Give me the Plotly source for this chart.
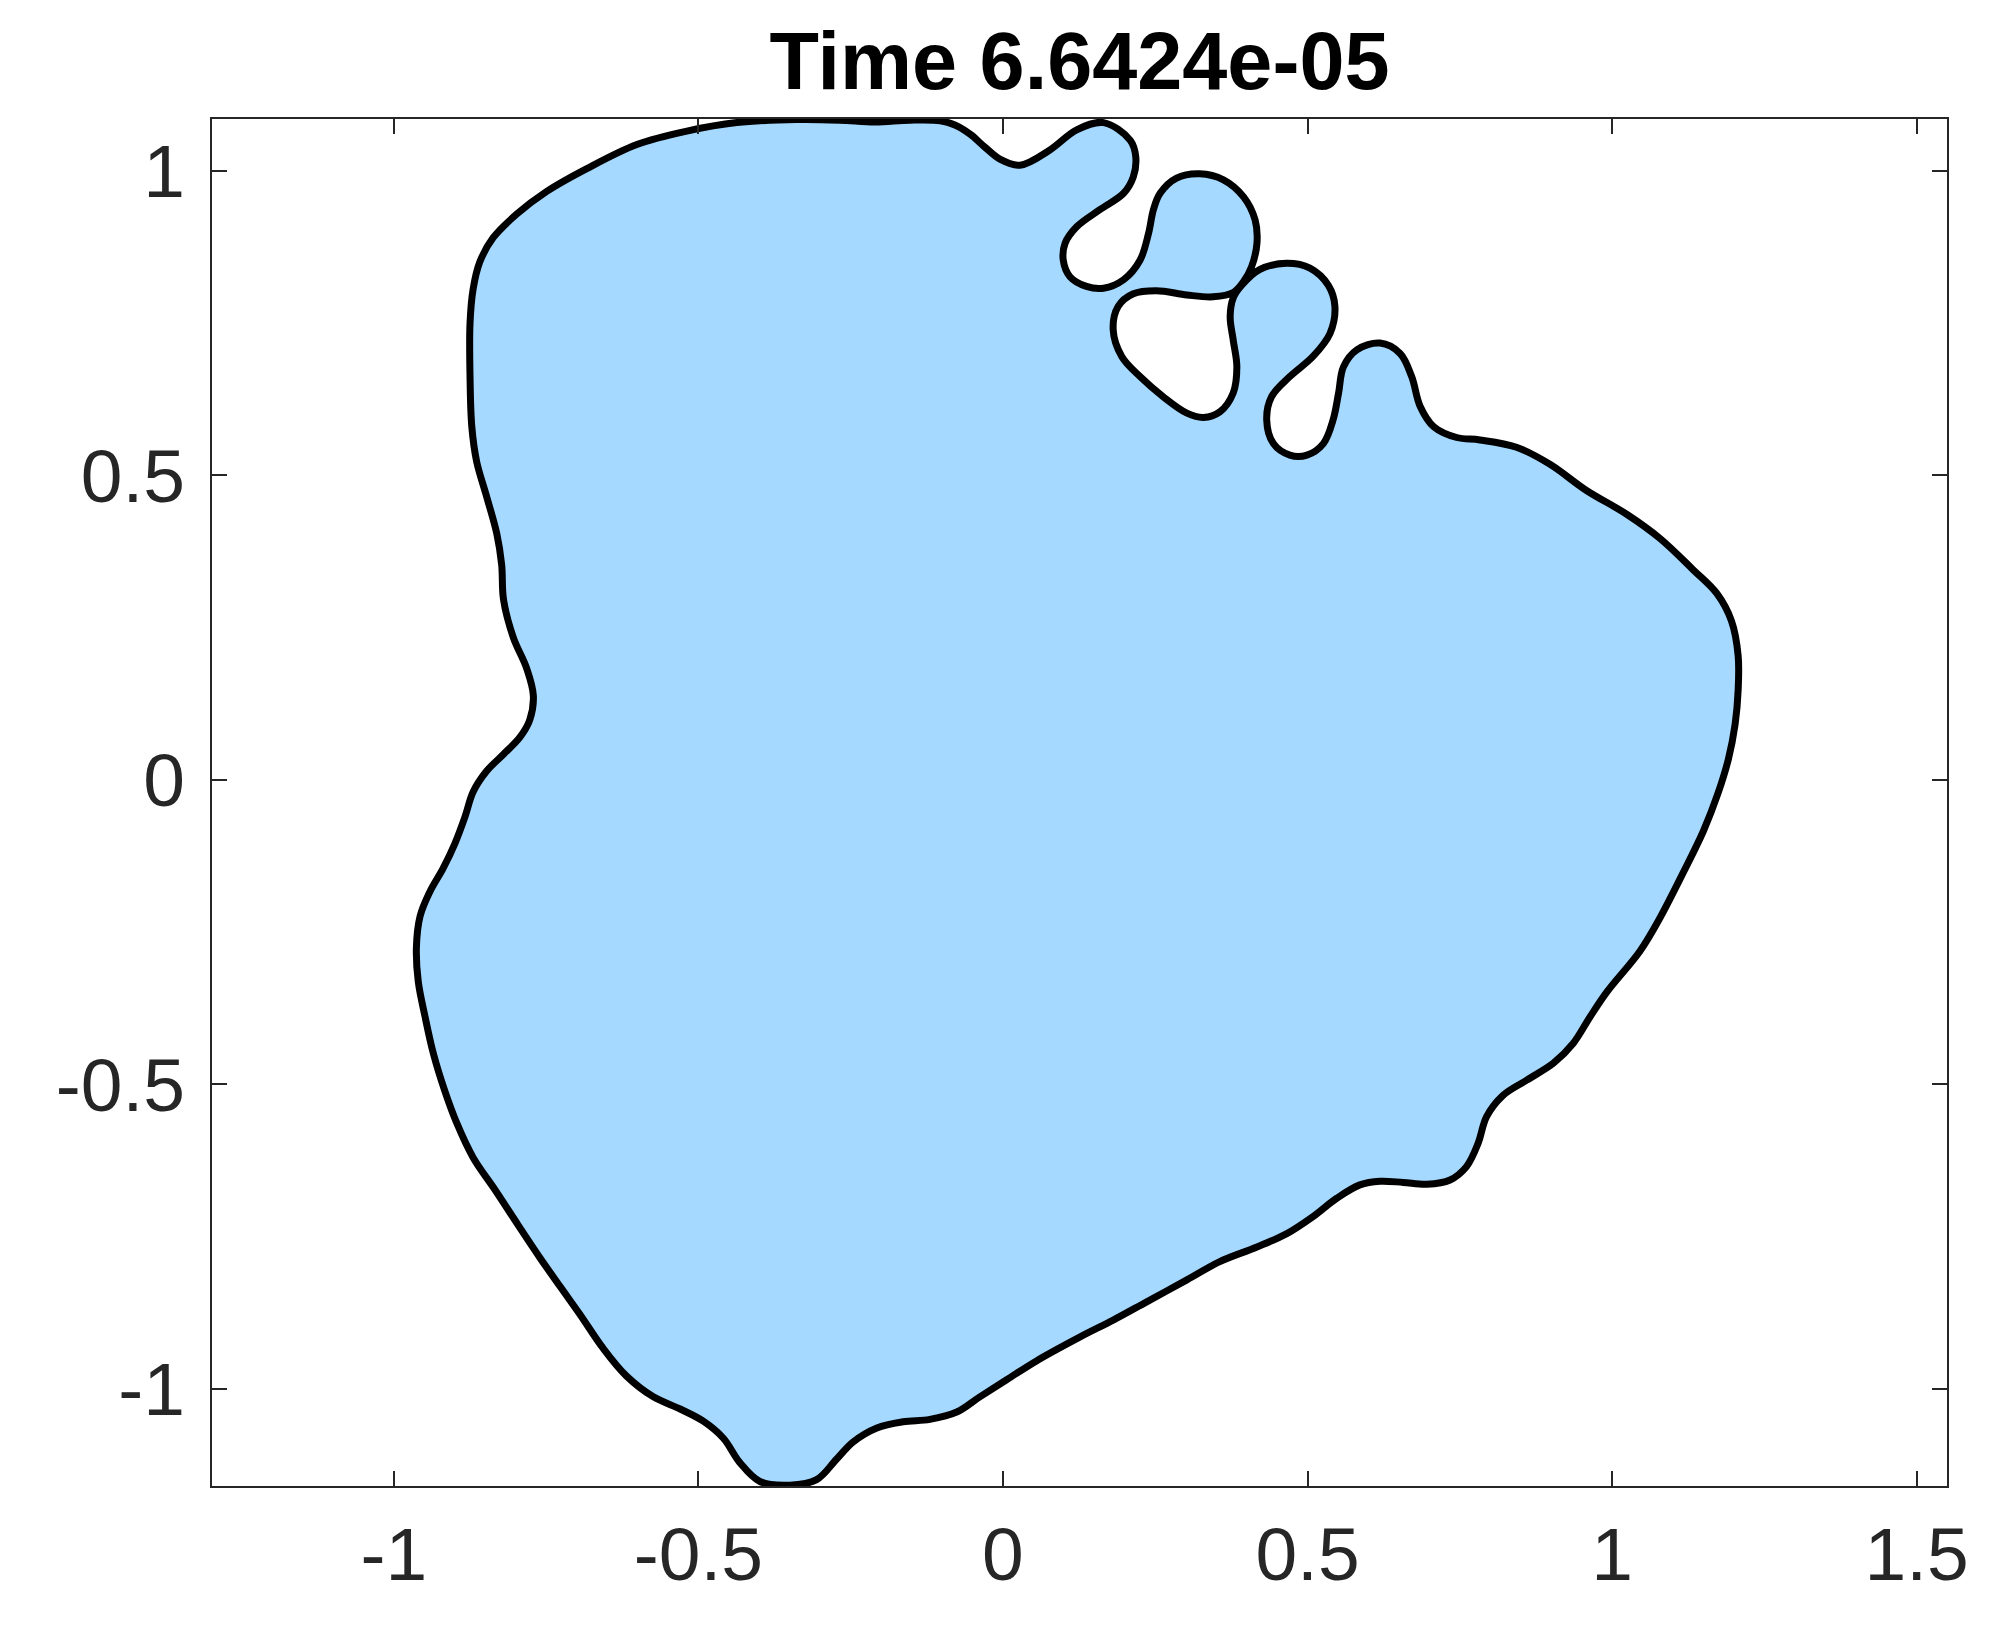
import plotly.graph_objects as go

title_text = "Time 6.6424e-05"

x_ticks = [-1, -0.5, 0, 0.5, 1, 1.5]
x_tick_labels = ["-1", "-0.5", "0", "0.5", "1", "1.5"]
y_ticks = [-1, -0.5, 0, 0.5, 1]
y_tick_labels = ["-1", "-0.5", "0", "0.5", "1"]

x_range = [-1.2986, 1.5499]
y_range = [-1.1594, 1.0849]

# boundary of the droplet, traced clockwise, split into segments
left_up_x = [-0.875, -0.875, -0.870, -0.859, -0.837, -0.798, -0.749, -0.684, -0.601, -0.519, -0.437]
left_up_y = [0.664, 0.749, 0.805, 0.850, 0.890, 0.929, 0.966, 1.003, 1.043, 1.065, 1.079]

top_x = [-0.339, -0.268, -0.210, -0.153, -0.103, -0.079, -0.054, -0.030, -0.005, 0.028, 0.077, 0.121,
         0.165, 0.209, 0.218, 0.214, 0.198, 0.159, 0.121, 0.102, 0.099, 0.110, 0.137, 0.165, 0.198,
         0.225, 0.239, 0.247, 0.258, 0.285, 0.323, 0.362, 0.395, 0.414, 0.417, 0.408, 0.395, 0.378,
         0.345, 0.302, 0.252, 0.214, 0.189, 0.181, 0.195, 0.225, 0.263, 0.302, 0.329, 0.356, 0.378,
         0.384, 0.378, 0.373, 0.378, 0.392, 0.422, 0.466, 0.504, 0.534, 0.545, 0.537, 0.509, 0.471,
         0.441, 0.433, 0.444, 0.471, 0.499, 0.526, 0.542, 0.551, 0.559, 0.581, 0.619, 0.652, 0.671,
         0.685, 0.707, 0.745, 0.783]
top_y = [1.084, 1.083, 1.080, 1.083, 1.082, 1.075, 1.060, 1.039, 1.019, 1.009, 1.034, 1.067,
         1.079, 1.050, 1.023, 0.990, 0.963, 0.936, 0.908, 0.881, 0.853, 0.826, 0.810, 0.807, 0.821,
         0.853, 0.897, 0.936, 0.963, 0.988, 0.995, 0.985, 0.957, 0.919, 0.881, 0.842, 0.818, 0.800,
         0.793, 0.796, 0.803, 0.798, 0.777, 0.738, 0.695, 0.662, 0.629, 0.602, 0.595, 0.604, 0.635,
         0.678, 0.722, 0.760, 0.791, 0.812, 0.838, 0.848, 0.840, 0.812, 0.777, 0.733, 0.695, 0.662,
         0.629, 0.591, 0.552, 0.533, 0.533, 0.552, 0.591, 0.635, 0.678, 0.706, 0.717, 0.700, 0.662,
         0.613, 0.580, 0.562, 0.558]

right_x = [0.843, 0.898, 0.958, 1.024, 1.079, 1.133, 1.172, 1.196, 1.207, 1.207, 1.202, 1.191,
           1.174, 1.150, 1.117, 1.079, 1.046, 0.991, 0.964, 0.936, 0.904, 0.860, 0.821, 0.794,
           0.780, 0.761, 0.734, 0.696, 0.657, 0.619, 0.586, 0.548, 0.509, 0.466, 0.417, 0.356,
           0.302, 0.236, 0.181, 0.126]
right_y = [0.546, 0.518, 0.475, 0.436, 0.396, 0.345, 0.306, 0.261, 0.204, 0.147, 0.091, 0.034,
           -0.022, -0.084, -0.152, -0.226, -0.281, -0.349, -0.389, -0.433, -0.465, -0.493, -0.518, -0.553,
           -0.597, -0.635, -0.657, -0.664, -0.661, -0.659, -0.665, -0.687, -0.717, -0.745, -0.767, -0.791,
           -0.821, -0.857, -0.887, -0.915]

bottom_x = [0.055, 0.006, -0.038, -0.076, -0.120, -0.164, -0.207, -0.246, -0.273, -0.306, -0.350,
            -0.399, -0.432, -0.459, -0.492, -0.530, -0.574, -0.618, -0.656, -0.695, -0.727, -0.760,
            -0.796, -0.834]
bottom_y = [-0.954, -0.985, -1.013, -1.038, -1.050, -1.054, -1.064, -1.087, -1.115, -1.149, -1.158,
            -1.152, -1.121, -1.081, -1.053, -1.033, -1.013, -0.979, -0.934, -0.877, -0.832, -0.785,
            -0.731, -0.673]

left_x = [-0.870, -0.897, -0.916, -0.935, -0.949, -0.960, -0.963, -0.957, -0.941, -0.919, -0.900,
          -0.883, -0.870, -0.848, -0.820, -0.793, -0.777, -0.771, -0.782, -0.804, -0.820, -0.823,
          -0.831, -0.848, -0.864, -0.872, -0.875]
left_y = [-0.620, -0.563, -0.512, -0.450, -0.388, -0.331, -0.275, -0.224, -0.184, -0.145, -0.105,
          -0.060, -0.020, 0.014, 0.042, 0.070, 0.098, 0.138, 0.183, 0.234, 0.296, 0.353,
          0.404, 0.466, 0.522, 0.579, 0.664]

xs = left_up_x + top_x + right_x + bottom_x + left_x
ys = left_up_y + top_y + right_y + bottom_y + left_y

fig = go.Figure()
fig.add_trace(go.Scatter(
    x=xs, y=ys, mode="lines", fill="toself",
    fillcolor="rgb(166,217,255)",
    line=dict(color="black", width=7, shape="spline", smoothing=1.0),
    hoverinfo="skip", showlegend=False,
))

font_family = "Liberation Sans, Arial, Helvetica, sans-serif"
axis_common = dict(
    showgrid=False, zeroline=False, showline=True, linecolor="#262626", linewidth=2,
    mirror="ticks", ticks="inside", ticklen=15, tickwidth=2, tickcolor="#262626",
    tickfont=dict(family=font_family, size=75, color="#262626"),
)

FIG_W, FIG_H = 1996, 1610
fig.update_layout(
    width=FIG_W, height=FIG_H,
    paper_bgcolor="white", plot_bgcolor="white",
    margin=dict(l=204, r=57, t=111, b=132, autoexpand=False),
    title=dict(text=title_text, x=0.5, xref="paper", xanchor="center",
               y=1 - 53 / FIG_H, yref="container", yanchor="middle",
               font=dict(family=font_family, size=81, color="black", weight="bold")),
    xaxis=dict(range=x_range, tickvals=x_ticks, ticktext=x_tick_labels,
               ticklabelstandoff=2, **axis_common),
    yaxis=dict(range=y_range, tickvals=y_ticks, ticktext=y_tick_labels,
               ticklabelstandoff=10, **axis_common),
)

fig.write_html("out.html")
